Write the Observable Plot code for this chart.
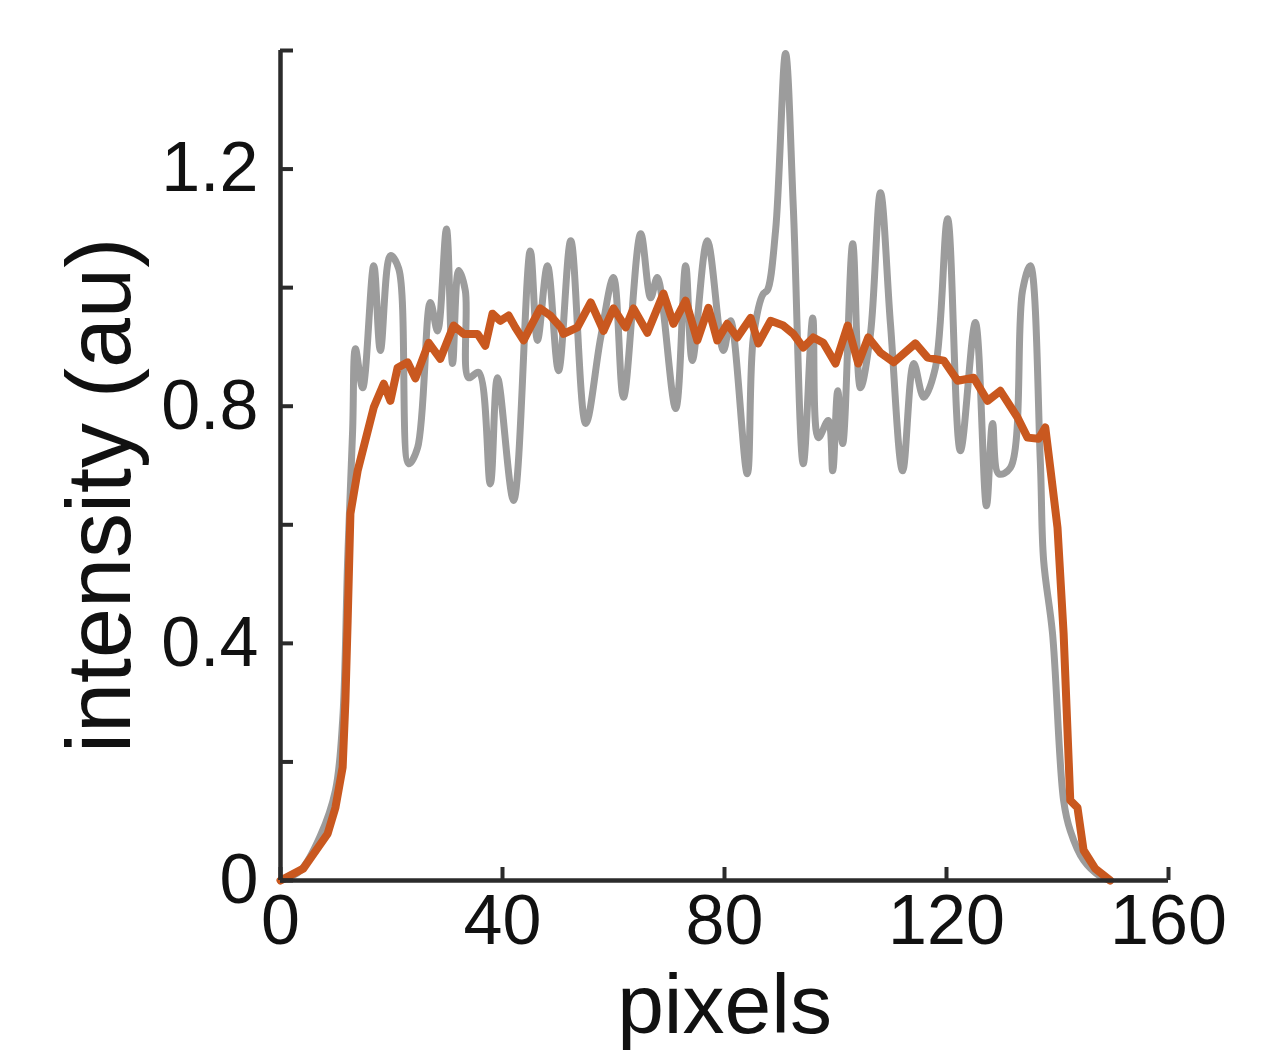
<!DOCTYPE html>
<html>
<head>
<meta charset="utf-8">
<script src="https://cdn.jsdelivr.net/npm/d3@7"></script>
<script src="https://cdn.jsdelivr.net/npm/@observablehq/plot@0.6"></script>
<style>
  html, body { margin: 0; padding: 0; background: #fff; }
  #chart { width: 1285px; height: 1052px; }
</style>
</head>
<body>
<div id="chart"></div>
<script>
// Gray trace (single profile)
const grayX = [0, 3.6, 7.2, 9.9, 11.2, 12.1, 13.0, 13.5, 14.8, 16.8, 18.0, 19.8, 21.3, 23.1, 24.7, 27.0, 28.3, 29.9, 31.0, 32.1, 33.3, 33.9, 35.7, 37.8, 39.1, 42.0, 45.0, 46.3, 48.1, 50.1, 52.3, 55.0, 57.7, 60.0, 61.8, 64.9, 66.7, 67.9, 71.2, 73.0, 74.2, 76.9, 79.8, 81.1, 84.1, 85.2, 87.0, 87.7, 89.2, 91.0, 92.4, 94.2, 95.9, 96.9, 98.7, 99.5, 100.4, 101.3, 103.1, 104.5, 106.3, 108.1, 109.9, 112.1, 114.1, 115.9, 118.0, 120.2, 122.5, 125.2, 127.2, 128.3, 129.4, 131.5, 133.7, 135.1, 136.9, 137.5, 139.1, 141.1, 142.3, 144.7, 147.7, 149.5];
const grayY = [0, 0.017, 0.076, 0.152, 0.27, 0.54, 0.76, 0.897, 0.831, 1.037, 0.894, 1.054, 1.032, 0.703, 0.730, 0.975, 0.927, 1.099, 0.872, 1.029, 0.995, 0.848, 0.857, 0.669, 0.848, 0.641, 1.062, 0.911, 1.037, 0.860, 1.079, 0.771, 0.916, 1.017, 0.815, 1.091, 0.983, 1.017, 0.796, 1.037, 0.877, 1.079, 0.894, 0.944, 0.686, 0.916, 0.990, 0.995, 1.096, 1.395, 1.135, 0.703, 0.949, 0.747, 0.776, 0.691, 0.826, 0.737, 1.074, 0.831, 0.922, 1.160, 0.939, 0.691, 0.872, 0.815, 0.865, 1.116, 0.725, 0.941, 0.632, 0.771, 0.686, 0.696, 0.995, 1.037, 0.708, 0.540, 0.417, 0.135, 0.084, 0.034, 0.007, 0];

// Orange trace (average profile)
const orangeX = [0, 4.1, 6.8, 8.5, 9.9, 11.2, 11.7, 12.1, 12.6, 13.9, 16.8, 18.6, 19.8, 21.1, 22.9, 24.3, 26.7, 28.8, 31.2, 33.0, 35.5, 36.9, 38.2, 39.6, 41.1, 42.3, 43.8, 45.0, 46.8, 48.6, 50.5, 51.0, 53.5, 55.9, 58.2, 60.0, 62.2, 63.6, 66.1, 69.0, 70.8, 73.0, 75.1, 77.1, 78.7, 80.5, 82.3, 84.7, 86.1, 88.3, 90.6, 92.4, 94.2, 96.0, 97.8, 100.0, 102.2, 104.1, 105.9, 108.1, 110.5, 114.4, 116.6, 119.5, 122.0, 124.9, 127.4, 129.7, 132.8, 134.6, 136.6, 137.8, 138.7, 140.0, 141.1, 142.3, 143.6, 144.7, 146.8, 149.5];
const orangeY = [0, 0.020, 0.056, 0.079, 0.123, 0.191, 0.304, 0.438, 0.619, 0.691, 0.798, 0.838, 0.809, 0.865, 0.874, 0.847, 0.907, 0.880, 0.936, 0.922, 0.922, 0.902, 0.956, 0.944, 0.953, 0.933, 0.911, 0.933, 0.965, 0.953, 0.933, 0.922, 0.933, 0.975, 0.927, 0.965, 0.933, 0.965, 0.924, 0.99, 0.939, 0.978, 0.911, 0.966, 0.911, 0.939, 0.916, 0.949, 0.906, 0.944, 0.936, 0.922, 0.899, 0.916, 0.907, 0.872, 0.936, 0.872, 0.916, 0.890, 0.874, 0.906, 0.882, 0.877, 0.843, 0.848, 0.809, 0.826, 0.781, 0.747, 0.745, 0.764, 0.696, 0.595, 0.417, 0.135, 0.123, 0.051, 0.020, 0];

const xTicks = [0, 40, 80, 120, 160];
const yTicks = [0, 0.2, 0.4, 0.6, 0.8, 1.0, 1.2, 1.4];
const yTickLabels = [0, 0.4, 0.8, 1.2];

const gray = grayX.map((x, i) => ({x, y: grayY[i]}));
const orange = orangeX.map((x, i) => ({x, y: orangeY[i]}));

const axisColor = "#2b2b2b";
const W = 1285, H = 1052, ML = 280, MR = 117, MT = 50, MB = 172;
const frameW = W - ML - MR, frameH = H - MT - MB;
const fmt = d3.format("~g");

const chart = Plot.plot({
  width: W,
  height: H,
  marginLeft: ML,
  marginRight: MR,
  marginTop: MT,
  marginBottom: MB,
  x: {domain: [0, 160]},
  y: {domain: [0, 1.4]},
  style: {fontFamily: "'Liberation Sans', Arial, Helvetica, sans-serif", background: "#fff", color: "#111"},
  marks: [
    Plot.line(gray, {x: "x", y: "y", stroke: "#9c9c9c", strokeWidth: 7, strokeLinejoin: "round", strokeLinecap: "round", curve: "catmull-rom"}),
    Plot.line(orange, {x: "x", y: "y", stroke: "#c9581f", strokeWidth: 8, strokeLinejoin: "round", strokeLinecap: "round"}),
    Plot.ruleX([0], {y1: 0, y2: 1.4, stroke: axisColor, strokeWidth: 4.5}),
    Plot.ruleY([0], {x1: 0, x2: 160, stroke: axisColor, strokeWidth: 4.5}),
    Plot.tickX(xTicks, {x: d => d, insetTop: frameH - 13, stroke: axisColor, strokeWidth: 4}),
    Plot.tickY(yTicks, {y: d => d, insetRight: frameW - 13, stroke: axisColor, strokeWidth: 4}),
    Plot.axisX(xTicks, {tickSize: 0, tickPadding: 14, fontSize: 70, label: null, fill: "#111", tickFormat: fmt}),
    Plot.axisY(yTickLabels, {tickSize: 0, tickPadding: 22, fontSize: 70, label: null, fill: "#111", tickFormat: fmt}),
    Plot.text(["intensity (au)"], {text: d => d, frameAnchor: "left", textAnchor: "middle", rotate: -90, dx: -179, dy: 30, fontSize: 90, fill: "#111"}),
    Plot.text(["pixels"], {text: d => d, frameAnchor: "bottom", textAnchor: "middle", lineAnchor: "bottom", dy: 152, fontSize: 84, fill: "#111"})
  ]
});
document.getElementById("chart").appendChild(chart);
</script>
</body>
</html>
